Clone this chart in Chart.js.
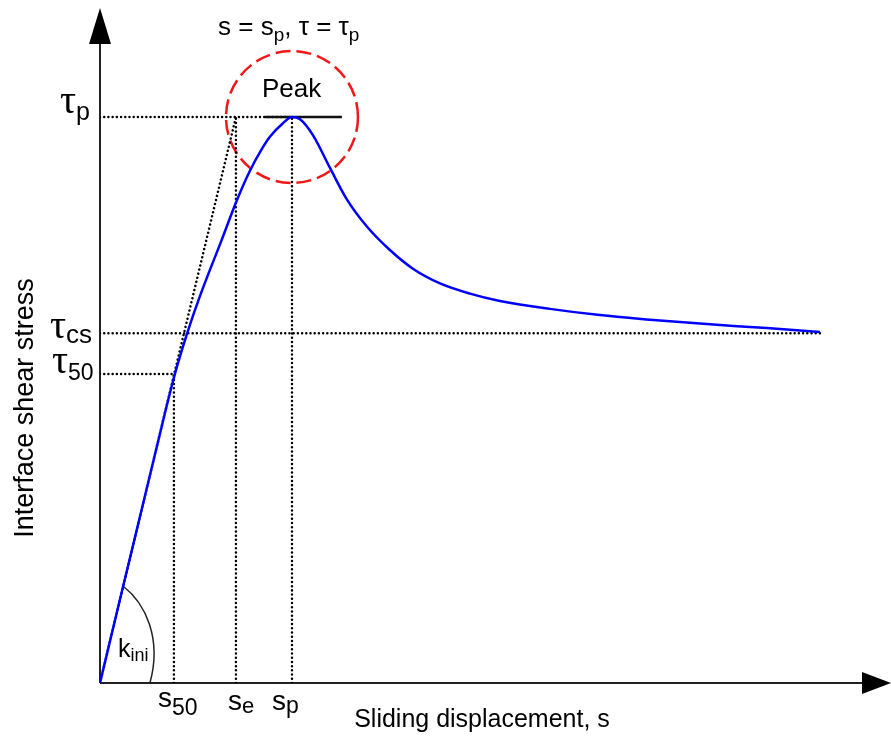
<!DOCTYPE html>
<html>
<head>
<meta charset="utf-8">
<title>Interface shear stress vs sliding displacement</title>
<script src="https://cdn.jsdelivr.net/npm/chart.js@4.4.1/dist/chart.umd.min.js"></script>
<style>
html,body{margin:0;padding:0;background:#fff;}
canvas{display:block;}
</style>
</head>
<body>
<canvas id="curve" width="891" height="736"></canvas>
<script>
// stress-slip curve, both axes normalised by the peak (s/sp, tau/taup)
const slip   = [0, 0.339, 0.391, 0.453, 0.521, 0.634, 0.712, 0.781, 0.844, 0.885, 0.953, 1.0,
                1.042, 1.109, 1.198, 1.285, 1.389, 1.510, 1.630, 1.771, 1.927, 2.083, 2.344, 2.604, 2.865, 3.125, 3.385, 3.646, 3.75];
const stress = [0, 0.478, 0.547, 0.617, 0.684, 0.783, 0.852, 0.905, 0.944, 0.965, 0.989, 1.0,
                0.996, 0.968, 0.910, 0.855, 0.807, 0.765, 0.732, 0.706, 0.688, 0.675, 0.661, 0.650, 0.642, 0.635, 0.629, 0.623, 0.620];

// characteristic points
const sP = 1, sE = 0.708, s50 = 0.385, sEnd = 3.75;
const tauP = 1, tauCS = 0.618, tau50 = 0.546;
const kiniAt = 0.121, kiniFoot = 0.26;
const peakLine = [0.859, 1.26];

const xMax = 4.115, yMax = 1.1926;

const SANS = '"Liberation Sans", Arial, sans-serif';
const SERIF = '"Liberation Serif", "Times New Roman", serif';

function guide(pts) {
    return {
        data: pts.map(p => ({x: p[0], y: p[1]})),
        borderColor: '#000',
        borderWidth: 2.5,
        borderDash: [0.01, 4.2],
        borderCapStyle: 'round',
        pointRadius: 0,
        tension: 0,
        fill: false
    };
}

// draws pieces of text one after another: [text, font, baseline shift]
function label(ctx, x, y, parts) {
    parts.forEach(p => {
        ctx.font = p[1];
        ctx.fillText(p[0], x, y + p[2]);
        x += ctx.measureText(p[0]).width;
    });
}

const sketch = {
    id: 'sketch',
    beforeDatasetsDraw(chart) {
        const {ctx, chartArea: a, scales: {x, y}} = chart;
        ctx.save();
        // axes with arrow heads
        ctx.strokeStyle = '#222';
        ctx.lineWidth = 2;
        ctx.beginPath();
        ctx.moveTo(a.left, a.bottom);
        ctx.lineTo(a.left, a.top + 30);
        ctx.moveTo(a.left, a.bottom);
        ctx.lineTo(a.right - 25, a.bottom);
        ctx.stroke();
        ctx.fillStyle = '#000';
        ctx.beginPath();
        ctx.moveTo(a.left, a.top);
        ctx.lineTo(a.left - 11, a.top + 36);
        ctx.lineTo(a.left + 11, a.top + 36);
        ctx.closePath();
        ctx.moveTo(a.right + 1, a.bottom);
        ctx.lineTo(a.right - 28, a.bottom - 11);
        ctx.lineTo(a.right - 28, a.bottom + 11);
        ctx.closePath();
        ctx.fill();

        // dashed circle round the peak
        ctx.strokeStyle = '#f01818';
        ctx.lineWidth = 2.5;
        ctx.setLineDash([15, 6]);
        ctx.beginPath();
        ctx.arc(x.getPixelForValue(sP), y.getPixelForValue(tauP), 66, 0, Math.PI * 2);
        ctx.stroke();
        ctx.setLineDash([]);

        // k_ini arc between the initial slope and the s axis
        const kx = x.getPixelForValue(kiniAt), ky = y.getPixelForValue(kiniAt * tauP / sE);
        const fx = x.getPixelForValue(kiniFoot), fy = y.getPixelForValue(0);
        ctx.strokeStyle = '#222';
        ctx.lineWidth = 1.5;
        ctx.beginPath();
        ctx.moveTo(kx, ky);
        ctx.bezierCurveTo(kx + 22, ky + 17, kx + 39, ky + 52, fx, fy);
        ctx.stroke();
        ctx.restore();
    },
    afterDatasetsDraw(chart) {
        const {ctx, scales: {x, y}} = chart;
        ctx.save();
        ctx.fillStyle = '#000';
        ctx.textBaseline = 'alphabetic';

        // tau levels on the stress axis
        label(ctx, 60, y.getPixelForValue(tauP) - 4, [['τ', '40px ' + SERIF, 0], ['p', '25px ' + SANS, 7]]);
        label(ctx, 50, y.getPixelForValue(tauCS) + 5, [['τ', '40px ' + SERIF, 0], ['cs', '26px ' + SANS, 5]]);
        label(ctx, 52, y.getPixelForValue(tau50) - 1, [['τ', '40px ' + SERIF, 0], ['50', '23px ' + SANS, 7]]);

        // slip values on the displacement axis
        label(ctx, x.getPixelForValue(s50) - 16, 707, [['s', '28px ' + SANS, 0], ['50', '23px ' + SANS, 8]]);
        label(ctx, x.getPixelForValue(sE) - 8, 710, [['s', '28px ' + SANS, 0], ['e', '22px ' + SANS, 3]]);
        label(ctx, x.getPixelForValue(sP) - 20, 710, [['s', '28px ' + SANS, 0], ['p', '23px ' + SANS, 3]]);

        // peak annotations
        label(ctx, 218, 35, [['s = s', '26px ' + SANS, 0], ['p', '19px ' + SANS, 6], [', τ = τ', '26px ' + SANS, 0], ['p', '19px ' + SANS, 6]]);
        label(ctx, 262, 97, [['Peak', '26px ' + SANS, 0]]);
        label(ctx, 118, 657, [['k', '25px ' + SANS, 0], ['ini', '18px ' + SANS, 4]]);

        // axis titles
        ctx.font = '25px ' + SANS;
        ctx.textAlign = 'center';
        ctx.fillText('Sliding displacement, s', 482, 727);
        ctx.translate(33, 408);
        ctx.rotate(-Math.PI / 2);
        ctx.font = '27px ' + SANS;
        ctx.fillText('Interface shear stress', 0, 0);
        ctx.restore();
    }
};

new Chart(document.getElementById('curve'), {
    type: 'line',
    data: {
        datasets: [
            {
                data: slip.map((s, i) => ({x: s, y: stress[i]})),
                borderColor: '#0000ff',
                borderWidth: 2.5,
                pointRadius: 0,
                cubicInterpolationMode: 'monotone',
                fill: false
            },
            {
                data: [{x: peakLine[0], y: tauP}, {x: peakLine[1], y: tauP}],
                borderColor: '#111',
                borderWidth: 2.5,
                pointRadius: 0,
                fill: false
            },
            guide([[0, tauP], [sP, tauP]]),
            guide([[0, tauCS], [sEnd, tauCS]]),
            guide([[0, tau50], [s50, tau50]]),
            guide([[s50, 0], [s50, tau50]]),
            guide([[sE, 0], [sE, tauP]]),
            guide([[sP, 0], [sP, tauP]]),
            guide([[0, 0], [sE, tauP]])
        ]
    },
    options: {
        responsive: false,
        animation: false,
        devicePixelRatio: 1,
        layout: {padding: {left: 100, right: 1, top: 8, bottom: 53}},
        scales: {
            x: {type: 'linear', min: 0, max: xMax, display: false},
            y: {type: 'linear', min: 0, max: yMax, display: false}
        },
        plugins: {legend: {display: false}, tooltip: {enabled: false}}
    },
    plugins: [sketch]
});
</script>
</body>
</html>
